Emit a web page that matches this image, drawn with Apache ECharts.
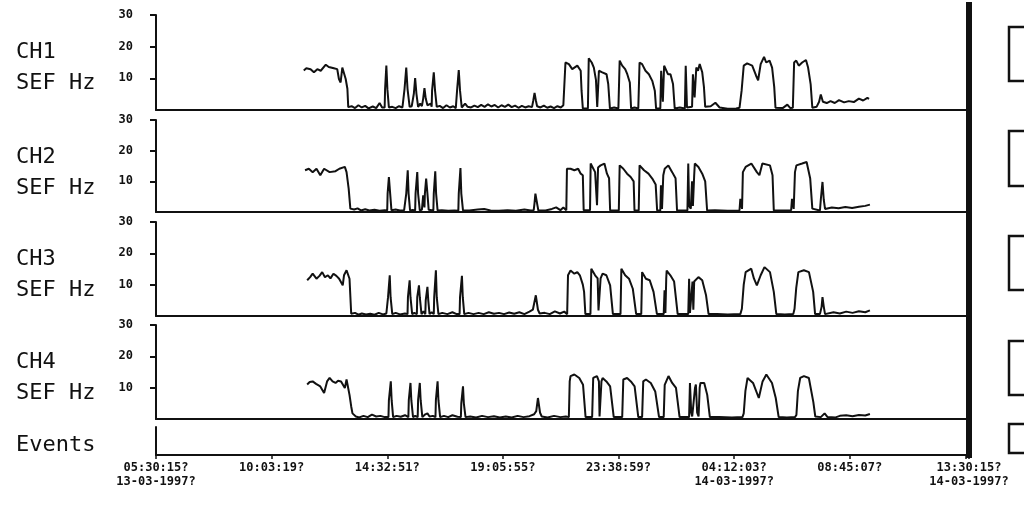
<!DOCTYPE html>
<html>
<head>
<meta charset="utf-8">
<script src="https://cdn.jsdelivr.net/npm/echarts@6/dist/echarts.min.js"></script>
<style>
  html, body { margin: 0; padding: 0; background: #fff; }
  #chart { width: 1024px; height: 517px; }
</style>
</head>
<body>
<div id="chart"></div>
<script>
// x = minutes after 05:30:15 13-03-1997, y = SEF in Hz
var X_MAX = 1920;
var TICK_STEP = 16384 / 60; // 4:33:04 between ticks
var TICK_LABELS = ['05:30:15?\n13-03-1997?', '10:03:19?', '14:32:51?', '19:05:55?',
  '23:38:59?', '04:12:03?\n14-03-1997?', '08:45:07?', '13:30:15?\n14-03-1997?'];
var CHANNELS = ['CH1', 'CH2', 'CH3', 'CH4'];

var ch1 = [[349,12.5],[355,13.2],[365,12.9],[373,11.9],[381,12.9],[389,12.4],[401,14.3],[408,13.6],[420,13.2],[428,12.9],[432,9.8],[436,8.7],[440,13.4],[444,12.9],[448,9.8],[452,6.7],[454,0.9],
  [462,1.2],[470,0.6],[478,1.5],[486,0.8],[494,1.3],[502,0.5],[512,1.1],[520,0.6],[528,2.2],[534,0.8],
  [540,0.8],[541,6.5],[543.5,6.5],[544,14],[546,14],[546.5,6.5],[549,6.5],[550,0.8],
  [558,1],[566,0.6],[574,1.2],[582,0.8],
  [586,1],[587,6.7],[590,6.7],[591,13.4],[593,13.4],[594,6.7],[598,6.7],[599,1],[604,1.2],
  [608,1],[609,5.2],[611,5.2],[612,10.1],[614,10.1],[615,5.2],[618,5.2],[619,1],[624,2],[628,1.2],
  [630,1.5],[631,3.6],[633,3.6],[634,6.9],[636,6.9],[637,3.6],[640,3.6],[641,1.5],[645,1.3],[649,2],
  [651,1],[652,6.1],[655,6.1],[656,11.9],[658,11.9],[659,6.1],[662,6.1],[663,1],
  [670,1.3],[678,0.6],[686,1.5],[694,0.8],[702,1.2],[708,0.6],
  [710,0.8],[711,6.1],[714,6.1],[715,12.6],[717,12.6],[718,6.1],[721,6.1],[722,0.8],
  [730,2],[736,1],[744,0.8],[752,1.4],[760,0.9],[768,1.6],[776,1],[784,1.8],[792,1.1],[800,1.6],[808,0.8],[816,1.5],[824,1],[832,1.7],[840,0.9],[848,1.4],[856,0.7],[864,1.3],[872,0.8],[880,1.2],[888,0.9],
  [891,3],[894,5.4],[897,3.1],[900,1.2],[908,0.8],[916,1.4],[924,0.7],[932,1.1],[940,0.6],[948,1.2],[956,0.8],[962,1.5],
  [964,1.5],[967,15],[975,14.5],[983,12.9],[995,14],[1003,12.4],[1005,6.1],[1008,0.5],[1014,0.5],
  [1020,0.5],[1022,16.3],[1029,15],[1034,13.4],[1039,9.5],[1042,1],[1045,1],[1046,12.4],[1054,11.9],[1064,11.3],[1068,8.2],[1072,0.5],[1082,0.8],
  [1092,0.5],[1095,15.6],[1101,14],[1108,12.9],[1113,11.3],[1119,8.7],[1122,0.5],[1130,0.8],
  [1139,0.5],[1142,15],[1148,14.5],[1156,12.4],[1164,11.3],[1172,9.2],[1178,6.1],[1181,0.5],
  [1191,0.5],[1193,12.4],[1197,2.6],[1200,14],[1204,13.4],[1209,11.3],[1215,11.3],[1221,8.2],[1225,0.5],[1237,0.8],
  [1249,0.5],[1251,14],[1254,0.8],[1266,1],[1268,11.3],[1272,4],[1276,13.4],[1280,12.4],[1284,14.5],[1290,11.9],[1294,7.3],[1297,1],[1310,1.2],[1321,2.3],[1331,0.8],[1350,0.4],[1370,0.5],
  [1378,0.7],[1383,6.1],[1388,14],[1396,14.7],[1408,14],[1417,10.9],[1422,9.4],[1428,14.5],[1436,16.8],[1441,15],[1449,15.6],[1455,13.4],[1460,7.3],[1463,0.7],[1480,0.6],[1491,1.7],[1498,0.6],
  [1504,0.7],[1507,15],[1512,15.6],[1518,14],[1526,15],[1535,15.8],[1540,13.4],[1546,8.2],[1550,0.7],
  [1560,1],[1566,2.6],[1570,4.9],[1575,2.6],[1584,2.2],[1593,2.8],[1603,2.2],[1613,3.1],[1625,2.4],[1636,2.8],[1648,2.5],[1660,3.6],[1670,3],[1680,3.8],[1684,3.5]];

var ch2 = [[352,13.6],[361,14.1],[370,13],[379,14.1],[388,12],[397,14.1],[410,13],[424,13.3],[433,14.1],[446,14.7],[450,13],[455,7.6],[459,1.1],
  [468,0.8],[476,1.2],[484,0.5],[494,0.9],[504,0.5],[516,0.7],[528,0.4],[540,0.6],
  [546,0.5],[547,6],[549,6],[550,11.4],[552,11.4],[553,6],[555,6],[556,0.6],[566,0.8],[576,0.5],[586,0.6],
  [590,0.5],[591,6],[594,6],[594.5,13.6],[596,13.6],[596.5,6],[599,6],[600,0.5],[606,0.7],
  [612,0.5],[613,6],[616,6],[617,13],[618.5,13],[619,6],[622,6],[623,0.5],
  [628,0.8],[631,5.4],[634,1.5],[635,6],[637,6],[638,10.9],[640,10.9],[641,6],[643,6],[644,0.7],
  [655,0.5],[656,6],[658.5,6],[659.5,13.3],[661,13.3],[661.5,6],[664,6],[665,0.5],
  [675,0.6],[690,0.4],[705,0.5],
  [714,0.4],[715,6],[718,6],[719,14.3],[720.5,14.3],[721,6],[724,6],[725,0.5],
  [740,0.5],[760,0.8],[775,1],[790,0.5],[810,0.4],[830,0.6],[850,0.4],[870,0.8],[885,0.5],
  [892,0.6],[894,3],[896,6],[899,6],[901,2],[903,0.5],[920,0.5],[935,1],[945,1.5],[955,0.6],[962,1.5],
  [969,0.6],[970.5,14.1],[979,14.1],[988,13.6],[997,14.1],[1003,12.5],[1008,12],[1010,0.6],
  [1025,0.6],[1026.5,15.8],[1037,13],[1040,12.5],[1041.5,2.2],[1043,2.2],[1044,14.5],[1050,15.2],[1059,15.8],[1065,12.5],[1070,11],[1072.5,0.5],
  [1093,0.5],[1095,15.2],[1103.6,14.1],[1112.5,12.5],[1121,11.4],[1128,10],[1130,0.5],
  [1140,0.5],[1142,15.2],[1152.5,13.6],[1163,12.5],[1172,10.9],[1180,9],[1183.5,0.5],
  [1191,0.5],[1192.5,8.7],[1195,1],[1197,1],[1198,12],[1201.4,14.1],[1210,15.2],[1219,13],[1227,11],[1230.5,0.5],
  [1255,0.5],[1257,15.8],[1259,2],[1263,1.1],[1265,1.1],[1266,10],[1268,2],[1271,12],[1272.5,15.8],[1281,14.7],[1290,12.5],[1297,10],[1301.5,0.5],
  [1320,0.6],[1350,0.4],[1378,0.5],[1380,4.3],[1382,4.3],[1384,1],[1386,13],[1392.5,14.7],[1406,15.8],[1419,13],[1425,12],[1432,15.8],[1450,15.2],[1456,12],[1459,0.5],
  [1480,0.5],[1500,0.6],[1502,4.3],[1504,4.3],[1506,1],[1509,13],[1512.4,15.2],[1526,15.8],[1536.5,16.3],[1545,10.9],[1550,1.1],
  [1568,0.5],[1570,4],[1573,4],[1574,9.8],[1576,9.8],[1577,4],[1580,1],
  [1596,1.5],[1612,1.2],[1628,1.6],[1644,1.3],[1660,1.7],[1675,2],[1686,2.4]];

var ch3 = [[357,11.4],[364,12.4],[370,13.5],[379,11.9],[386,12.8],[392.5,14],[399,12.4],[406,13],[412,12],[419,13.5],[426,12.8],[432.5,11.9],[441,9.8],[444,13],[450,14.6],[457,11.9],[461,0.7],
  [470,1],[478,0.4],[486,0.8],[496,0.5],[506,0.7],[516,0.4],[526,1],[536,0.5],[544,0.8],
  [547,0.6],[548,6],[551,6],[552,13],[553.5,13],[554,6],[557,6],[558,0.6],[566,1],[576,0.5],[588,0.8],
  [594,0.6],[595,6],[598,6],[599,11.4],[600.5,11.4],[601,6],[604,6],[605,0.6],[610,1],
  [616,0.6],[617,6],[620,6],[621,9.8],[622.5,9.8],[623,6],[626,6],[627,0.6],[632,1.5],
  [636,0.6],[637,5],[640,5],[641,9.3],[642.5,9.3],[643,5],[645,5],[646,0.6],[651,1.2],
  [656,0.6],[657,6],[660,6],[661,14.6],[662.5,14.6],[663,6],[666,6],[667,0.6],
  [676,1],[688,0.6],[700,1.2],[710,0.6],
  [717,0.6],[718,6],[721,6],[722.5,12.8],[724,12.8],[724.5,6],[727,6],[728,0.6],
  [738,1],[750,0.6],[762,1],[774,0.6],[786,1.2],[798,0.7],[810,1],[822,0.6],[834,1.1],[846,0.7],[858,1.2],[870,0.6],[882,1.4],[890,2],
  [894,2.5],[897,6.6],[900,6.6],[902,2],[906,0.8],[918,1],[930,0.6],[942,1.5],[954,0.8],[964,1.4],
  [971,0.6],[973,13],[979,14.5],[988,13.5],[995,14],[1001,13],[1008,10],[1011,7.7],[1014,0.6],
  [1026,0.6],[1028,15.1],[1037,13],[1043,12],[1045,1.8],[1048,1.8],[1050,12],[1054.7,13.5],[1063.6,13],[1072.5,9.8],[1079,0.6],
  [1097,0.6],[1099,15.1],[1108,13],[1117,11.9],[1126,8.7],[1134,0.6],
  [1146,0.6],[1148,14],[1157,11.9],[1166,11.4],[1175,7.7],[1183,0.6],
  [1199,0.6],[1201,8.2],[1203,1],[1205,12],[1206,14.5],[1214.7,13],[1223.6,11],[1232,0.6],
  [1257,0.6],[1259,11.9],[1261,1],[1265,1],[1267,11],[1269,2],[1271,11],[1272.5,11.4],[1281,12.4],[1290,11.4],[1299,6.6],[1305,0.6],
  [1325,0.6],[1350,0.5],[1380,0.6],[1383.6,2.3],[1388,10],[1392.5,14],[1405.8,15.1],[1412,12],[1419,9.8],[1428,13],[1437,15.6],[1450,14],[1459,7.7],[1465,0.6],
  [1485,0.5],[1505,0.6],[1508,2.3],[1512,9],[1517,14],[1530,14.6],[1542,14],[1552,7.7],[1556.5,0.6],
  [1568,0.6],[1572,3],[1574,6],[1577,3],[1580,0.6],
  [1600,1.2],[1615,0.8],[1630,1.4],[1645,1],[1660,1.5],[1675,1.2],[1686,1.8]];

var ch4 = [[357,11],[363,11.8],[370,12],[378,11.2],[388,10.4],[397,8.3],[404,12],[410,13.1],[417,12],[424,11.5],[430,12.2],[437,12],[446,9.9],[450,12.6],[457,7.7],[461,4],[464,1.8],[472,0.8],
  [480,0.5],[490,1],[500,0.6],[510,1.4],[520,0.8],[530,1],[540,0.6],
  [549,0.6],[550,6],[553,6],[554.5,12],[556,12],[556.5,6],[559,6],[560,0.6],[568,1],[578,0.7],[588,1.2],
  [596,0.6],[597,6],[600,6],[601,11.5],[602.5,11.5],[603,6],[606,6],[607,0.6],[612,1],
  [618,0.6],[619,6],[622,6],[623,11.5],[624.5,11.5],[625,6],[628,6],[629,0.6],
  [636,1.5],[641,1.8],[646,0.8],[654,1],
  [660,0.6],[661,6],[664,6],[665,12],[666.5,12],[667,6],[670,6],[671,0.6],
  [680,1],[690,0.6],[700,1.2],[712,0.7],
  [720,0.6],[721,5],[724,5],[725,10.4],[726.5,10.4],[727,5],[730,5],[731,0.6],
  [742,0.8],[756,0.5],[770,1],[784,0.6],[798,0.9],[812,0.5],[826,0.8],[840,0.5],[854,1],[868,0.6],[882,0.9],[893,1.5],
  [898,2.5],[902,6.7],[904.5,6.7],[907,2],[911,0.8],[925,0.5],[940,1],[955,0.6],[968,0.8],
  [975,0.6],[977,12],[979,13.7],[988,14.2],[999.6,13.1],[1008.5,10.9],[1014.5,0.6],
  [1030,0.6],[1032.5,13.1],[1041.4,13.7],[1046,12],[1047.5,0.8],[1050,0.8],[1052,12],[1054.7,13.1],[1063.6,12],[1072.5,10.4],[1081,0.6],
  [1101,0.6],[1103.6,12.6],[1112.5,13.1],[1121.4,12],[1130.3,10.4],[1139,0.6],
  [1148,0.6],[1150.7,12],[1157,12.6],[1168.5,11.5],[1179,8.8],[1188,0.6],
  [1199,0.6],[1201.4,10.9],[1210.3,13.7],[1219,11.5],[1228,9.9],[1236.5,0.6],
  [1259,0.6],[1261,11.5],[1264,2],[1266.3,0.8],[1270,1],[1273,10],[1275,11],[1278,2],[1281.4,0.8],[1284,10],[1285.8,11.5],[1294.7,11.5],[1301.8,7.7],[1308,0.6],
  [1330,0.6],[1360,0.5],[1385,0.6],[1388,1.8],[1392,9],[1397,13.1],[1410,11.5],[1423.6,6.7],[1432.5,12],[1441.4,14.2],[1454.7,11.5],[1463.6,6.7],[1470.5,0.6],
  [1490,0.5],[1509,0.6],[1512.4,1.3],[1516,9],[1521.3,13.1],[1530.2,13.7],[1541.8,13.1],[1552.4,5.4],[1557,0.8],
  [1570,0.6],[1579,1.8],[1586,0.6],[1605,0.5],[1615,1],[1630,1.2],[1645,0.9],[1660,1.3],[1675,1.1],[1686,1.6]];

var channelData = [ch1, ch2, ch3, ch4];

// panel geometry (top, height) - last one is the Events strip
var panels = [[15, 95], [120, 92], [222, 94], [325, 94], [427, 28]];
var ink = '#111';
var monoFont = 'DejaVu Sans Mono';

var grids = [], xAxes = [], yAxes = [], series = [], graphics = [];

panels.forEach(function (p, i) {
  var last = i === panels.length - 1;
  grids.push({ left: 156, right: 55, top: p[0], height: p[1] });
  xAxes.push({
    type: 'value', gridIndex: i, min: 0, max: X_MAX, interval: TICK_STEP,
    axisLine: { show: true, onZero: false, lineStyle: { color: ink, width: 2 } },
    axisTick: { show: last, length: 4, lineStyle: { color: ink, width: 1.5 } },
    splitLine: { show: false },
    axisLabel: {
      show: last, showMaxLabel: true, showMinLabel: true, hideOverlap: false,
      color: ink, fontFamily: monoFont, fontWeight: 'bold', fontSize: 12, lineHeight: 14, margin: 6,
      formatter: function (v) {
        if (v >= X_MAX - 0.01) return TICK_LABELS[7];
        var k = Math.round(v / TICK_STEP);
        if (k < 7 && Math.abs(v - k * TICK_STEP) < 0.01) return TICK_LABELS[k];
        return '';
      }
    }
  });
  yAxes.push({
    type: 'value', gridIndex: i, min: 0, max: last ? 1 : 30, interval: last ? 1 : 10,
    axisLine: { show: true, lineStyle: { color: ink, width: 2 } },
    axisTick: { show: !last, length: 6, customValues: [10, 20, 30], lineStyle: { color: ink, width: 2 } },
    splitLine: { show: false },
    axisLabel: {
      show: !last, customValues: [10, 20, 30], color: ink, fontFamily: monoFont,
      fontWeight: 'bold', fontSize: 12, margin: 23,
      formatter: function (v) { return v === 0 ? '' : String(v); }
    }
  });
  if (!last) {
    series.push({
      type: 'line', xAxisIndex: i, yAxisIndex: i, data: channelData[i],
      showSymbol: false, symbol: 'none', animation: false,
      lineStyle: { color: ink, width: 2 }
    });
    graphics.push({ type: 'text', left: 16, top: p[0] + 26,
      style: { text: CHANNELS[i], font: '22px ' + monoFont, fill: ink } });
    graphics.push({ type: 'text', left: 16, top: p[0] + 57,
      style: { text: 'SEF Hz', font: '22px ' + monoFont, fill: ink } });
  } else {
    graphics.push({ type: 'text', left: 16, top: p[0] + 7,
      style: { text: 'Events', font: '22px ' + monoFont, fill: ink } });
  }
});

// thick end marker and the cut-off boxes on the right edge
graphics.push({ type: 'line', shape: { x1: 969, y1: 2, x2: 969, y2: 458 },
  style: { stroke: ink, lineWidth: 6 } });
[[27, 54], [131, 55], [236, 54], [341, 54], [424, 29]].forEach(function (b) {
  graphics.push({ type: 'rect', shape: { x: 1009, y: b[0], width: 40, height: b[1] },
    style: { stroke: ink, fill: 'none', lineWidth: 2.5 } });
});

var myChart = echarts.init(document.getElementById('chart'));
myChart.setOption({
  backgroundColor: '#fff',
  animation: false,
  grid: grids,
  xAxis: xAxes,
  yAxis: yAxes,
  series: series,
  graphic: graphics
});
</script>
</body>
</html>
